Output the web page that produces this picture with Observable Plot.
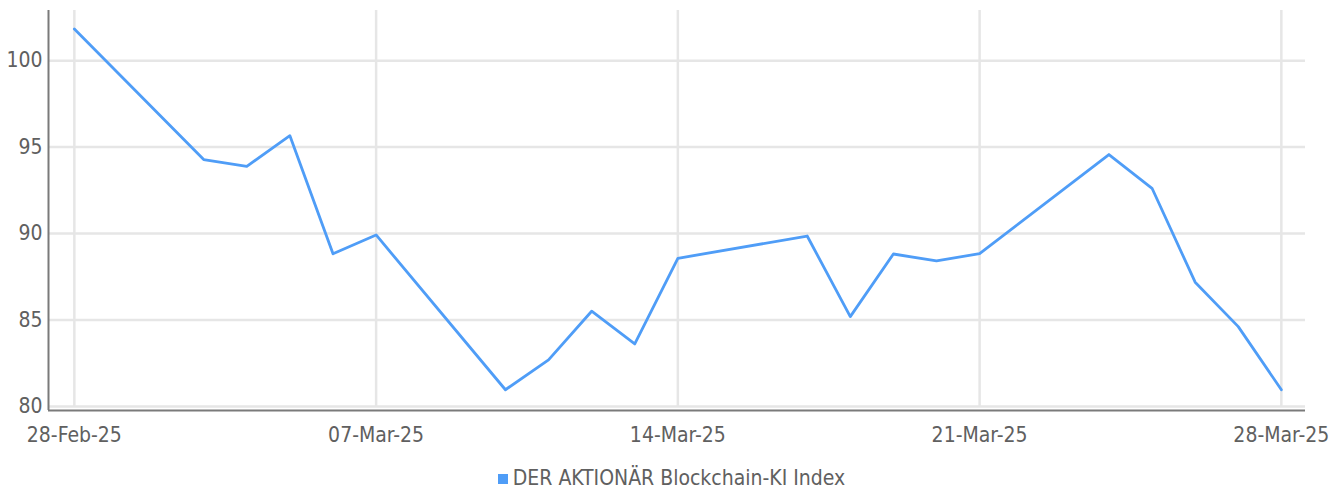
<!DOCTYPE html>
<html>
<head>
<meta charset="utf-8">
<script src="https://cdn.jsdelivr.net/npm/d3@7"></script>
<script src="https://cdn.jsdelivr.net/npm/@observablehq/plot@0.6"></script>
<style>
  html, body { margin: 0; padding: 0; background: #fff; }
  body { width: 1343px; height: 490px; overflow: hidden; font-family: "DejaVu Sans Condensed", sans-serif; }
  #legend { position: absolute; left: 0; top: 467px; width: 1343px; height: 22px; line-height: 22px; text-align: center; font-size: 21px; color: #606060; }
  #legend .sw { display: inline-block; width: 10px; height: 10px; background: #4f9df7; margin-right: 5px; vertical-align: 1px; }
</style>
</head>
<body>
<div id="chart"></div>
<div id="legend"><span class="sw"></span>DER AKTIONÄR Blockchain-KI Index</div>
<script>
const seriesName = "DER AKTIONÄR Blockchain-KI Index";
const dates = ["2025-02-28","2025-03-03","2025-03-04","2025-03-05","2025-03-06","2025-03-07",
  "2025-03-10","2025-03-11","2025-03-12","2025-03-13","2025-03-14",
  "2025-03-17","2025-03-18","2025-03-19","2025-03-20","2025-03-21",
  "2025-03-24","2025-03-25","2025-03-26","2025-03-27","2025-03-28"];
const values = [101.83, 94.28, 93.89, 95.66, 88.83, 89.92,
  80.97, 82.70, 85.51, 83.62, 88.57,
  89.86, 85.20, 88.82, 88.42, 88.84,
  94.57, 92.62, 87.19, 84.62, 80.97];
const xTickDates = ["2025-02-28","2025-03-07","2025-03-14","2025-03-21","2025-03-28"];
const yTicks = [80, 85, 90, 95, 100];

const parse = d3.utcParse("%Y-%m-%d");
const data = dates.map((d, i) => ({date: parse(d), value: values[i]}));
const xt = xTickDates.map(parse);
const DAY = 864e5;
const xDomain = [new Date(+parse("2025-02-28") - 0.6 * DAY), new Date(+parse("2025-03-28") + 0.56 * DAY)];
const yDomain = [79.77, 102.9];
const fmt = d3.utcFormat("%d-%b-%y");

const chart = Plot.plot({
  width: 1343,
  height: 462,
  marginLeft: 48,
  marginRight: 38,
  marginTop: 10,
  marginBottom: 52,
  style: {fontFamily: '"DejaVu Sans Condensed", sans-serif', fontSize: "21px", color: "#606060", background: "#fff"},
  x: {type: "utc", domain: xDomain, label: null},
  y: {domain: yDomain, label: null},
  marks: [
    Plot.ruleY(yTicks, {stroke: "#e6e6e6", strokeWidth: 2.5}),
    Plot.ruleX(xt, {y1: 80, y2: yDomain[1], stroke: "#e6e6e6", strokeWidth: 2.5}),
    Plot.ruleX([xDomain[0]], {stroke: "#7a7a7a", strokeWidth: 2}),
    Plot.ruleY([yDomain[0]], {stroke: "#7a7a7a", strokeWidth: 2}),
    Plot.axisY({ticks: yTicks, tickSize: 0, tickPadding: 6, fill: "#606060", fontSize: 21, tickFormat: d => d, label: null}),
    Plot.axisX({ticks: xt, tickSize: 0, tickPadding: 17, fill: "#606060", fontSize: 21, tickFormat: fmt, label: null}),
    Plot.line(data, {x: "date", y: "value", stroke: "#4f9df7", strokeWidth: 2.8})
  ]
});
document.getElementById("chart").appendChild(chart);
</script>
</body>
</html>
